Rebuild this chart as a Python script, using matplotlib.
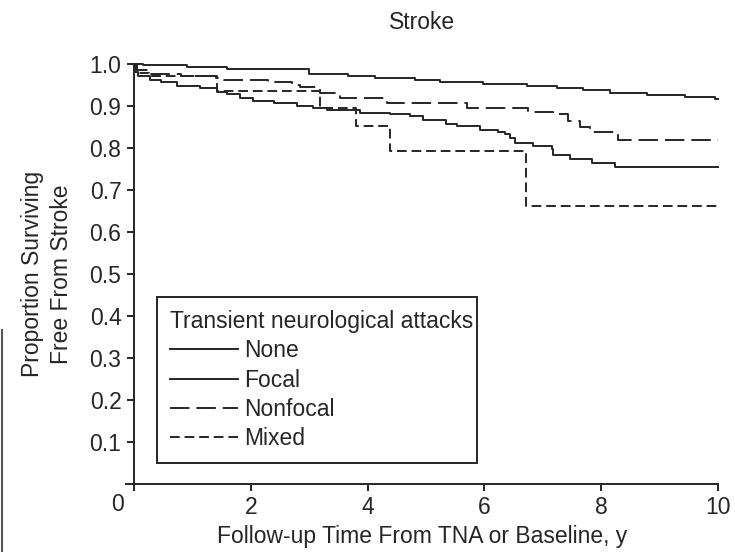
import matplotlib
matplotlib.use('Agg')
import matplotlib.pyplot as plt
from matplotlib.lines import Line2D

plt.rcParams['font.family'] = ['Liberation Sans', 'DejaVu Sans']
plt.rcParams['lines.scale_dashes'] = False

# Kaplan-Meier step data: time (years) and proportion free from stroke
none_t = [0, 0.15, 0.9, 1.6, 3.0, 3.67, 4.13, 4.81, 5.24, 5.98, 6.73, 7.24,
          7.69, 8.15, 8.78, 9.43, 9.95, 10]
none_s = [1.0, 0.997, 0.993, 0.987, 0.977, 0.971, 0.966, 0.961, 0.956, 0.952,
          0.948, 0.942, 0.937, 0.931, 0.926, 0.921, 0.916, 0.916]

focal_t = [0, 0.02, 0.07, 0.27, 0.47, 0.73, 1.13, 1.42, 1.59, 1.82, 2.04, 2.39,
           2.79, 3.07, 3.30, 3.87, 4.38, 4.73, 4.95, 5.35, 5.53, 5.92, 6.24,
           6.35, 6.44, 6.52, 6.84, 7.15, 7.18, 7.47, 7.84, 8.24, 10]
focal_s = [1.0, 0.98, 0.971, 0.961, 0.956, 0.948, 0.942, 0.934, 0.928, 0.920,
           0.912, 0.906, 0.900, 0.895, 0.890, 0.884, 0.881, 0.875, 0.867, 0.858,
           0.853, 0.843, 0.839, 0.833, 0.824, 0.813, 0.805, 0.797, 0.783, 0.774,
           0.764, 0.754, 0.754]

nonfocal_t = [0, 0.05, 0.3, 0.8, 1.4, 1.55, 2.3, 2.7, 2.84, 3.18, 3.53, 4.33,
              5.70, 6.75, 7.17, 7.43, 7.64, 7.81, 8.29, 10]
nonfocal_s = [1.0, 0.985, 0.975, 0.972, 0.967, 0.962, 0.957, 0.95, 0.944, 0.932,
              0.920, 0.908, 0.896, 0.886, 0.881, 0.865, 0.849, 0.838, 0.819, 0.819]

mixed_t = [0, 0.05, 0.25, 1.42, 3.18, 3.81, 4.38, 6.72, 10]
mixed_s = [1.0, 0.978, 0.971, 0.936, 0.896, 0.853, 0.793, 0.661, 0.661]

labels = ['None', 'Focal', 'Nonfocal', 'Mixed']
x_ticks = [0, 2, 4, 6, 8, 10]
y_ticks = [0.1, 0.2, 0.3, 0.4, 0.5, 0.6, 0.7, 0.8, 0.9, 1.0]

ink = '#262626'
fs = 16.5

fig = plt.figure(figsize=(7.35, 5.52), dpi=100)
ax = fig.add_axes([0.1714, 0.1232, 0.8054, 0.7609])

styles = [None, None, (0, (14, 5)), (0, (7, 3.5))]
series = [(none_t, none_s), (focal_t, focal_s),
          (nonfocal_t, nonfocal_s), (mixed_t, mixed_s)]
for (t, s), lab, ls in zip(series, labels, styles):
    line, = ax.step(t, s, where='post', color=ink, lw=1.4, label=lab,
                    clip_on=False)
    if ls is not None:
        line.set_linestyle(ls)

ax.set_xlim(-0.137, 10)
ax.set_ylim(0, 1.0)
for side in ['top', 'right']:
    ax.spines[side].set_visible(False)
ax.spines['left'].set_position(('data', 0))
for side in ['left', 'bottom']:
    ax.spines[side].set_linewidth(1.4)
    ax.spines[side].set_color(ink)

ax.set_xticks(x_ticks)
ax.set_xticklabels([''] + [str(v) for v in x_ticks[1:]])
ax.set_yticks(y_ticks)
ax.set_yticklabels([f'{v:.1f}' for v in y_ticks])
ax.tick_params(direction='out', length=5, width=1.4, color=ink,
               labelsize=fs, labelcolor=ink, pad=4)

# shared origin label at the corner
ax.annotate('0', xy=(0, 0), xytext=(-12, -15), textcoords='offset points',
            ha='center', va='center', fontsize=fs, color=ink)

ax.set_xlabel('Follow-up Time From TNA or Baseline, y', fontsize=fs,
              color=ink, labelpad=4)
ax.set_ylabel('Proportion Surviving\nFree From Stroke', fontsize=fs,
              color=ink, labelpad=12, linespacing=1.35)
ax.set_title('Stroke', fontsize=fs, color=ink, pad=25)

leg = ax.legend(title='Transient neurological attacks', loc='upper left',
                bbox_to_anchor=(0.0524, 0.445, 0.541, 0.0), mode='expand',
                borderaxespad=0, fontsize=fs, title_fontsize=fs,
                alignment='left', handlelength=3.0, handletextpad=0.25,
                labelspacing=0.28, borderpad=0.55, fancybox=False,
                framealpha=1)
leg.get_frame().set_edgecolor(ink)
leg.get_frame().set_linewidth(1.4)
for txt in leg.get_texts():
    txt.set_color(ink)
leg.get_title().set_color(ink)

# rule from neighbouring panel at the far left
fig.add_artist(Line2D([0.003, 0.003], [0.0, 1 - 330 / 552], color='#555555',
                      lw=1.5, transform=fig.transFigure))

fig.savefig('out.png', dpi=100)
